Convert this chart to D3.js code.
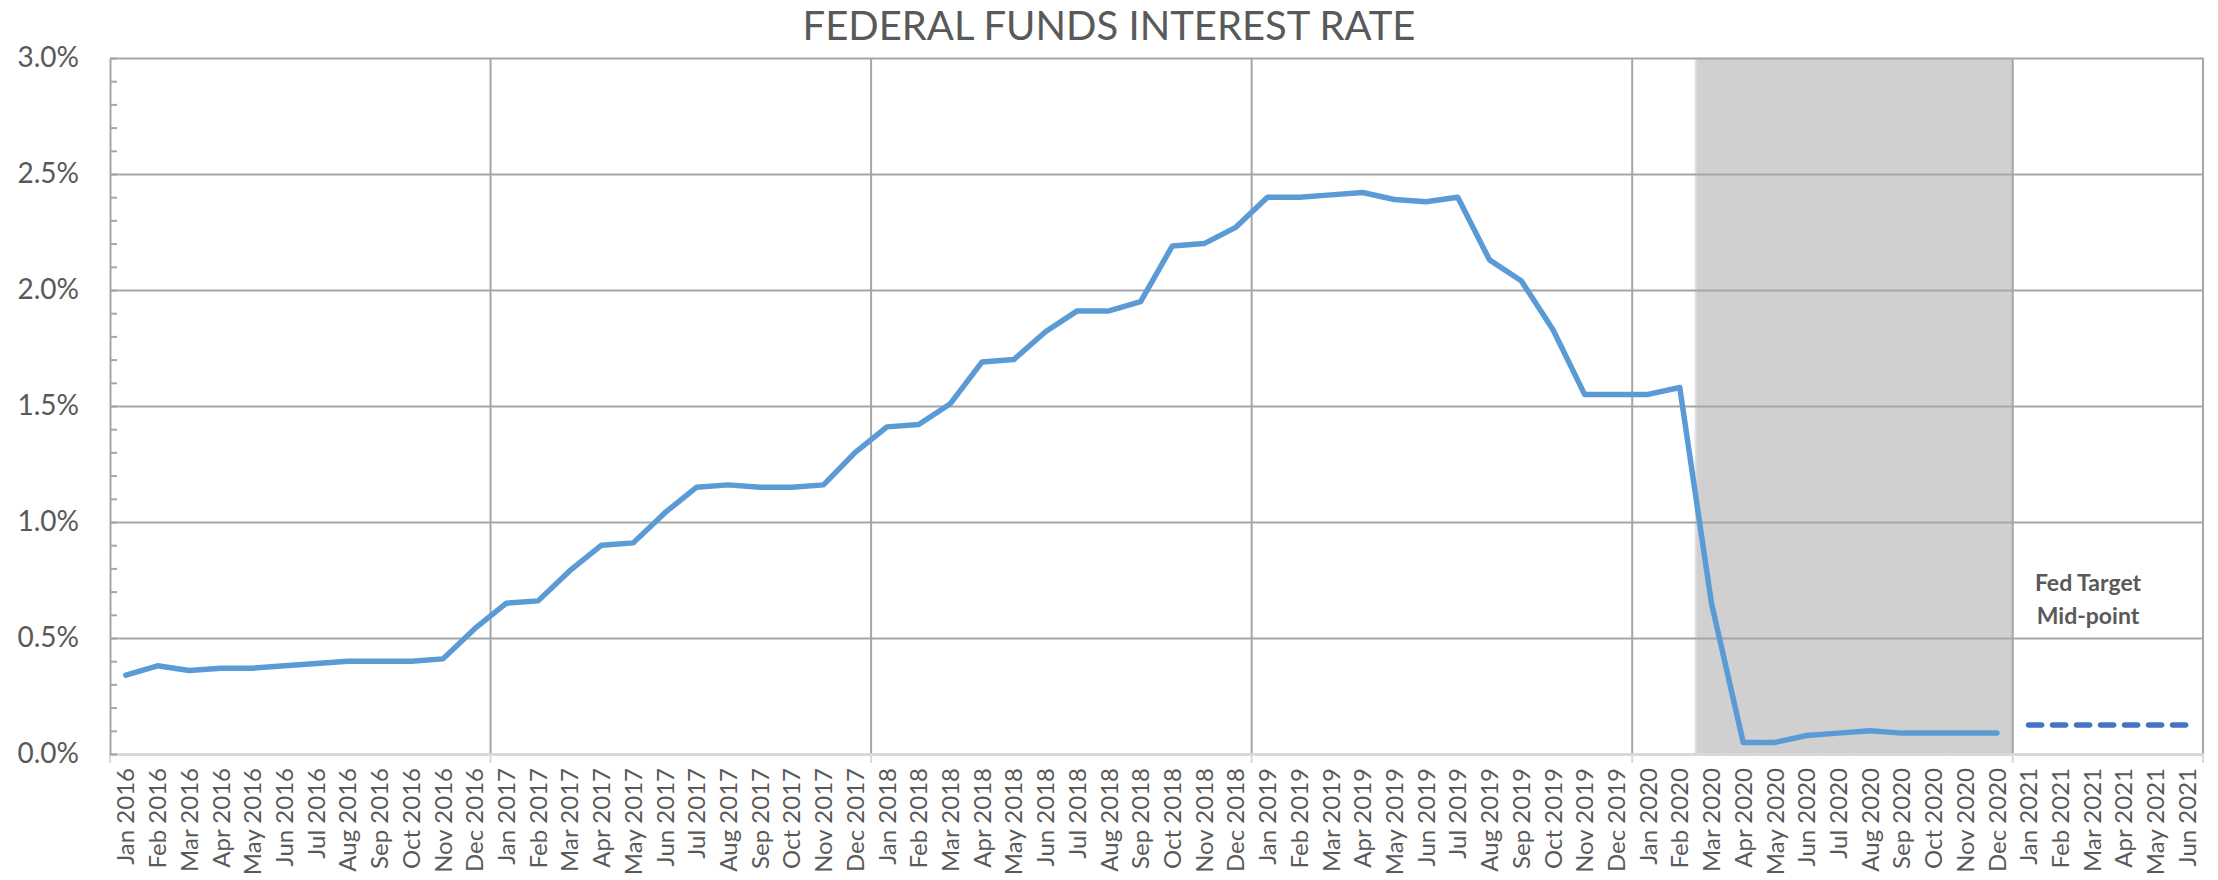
<!DOCTYPE html>
<html>
<head>
<meta charset="utf-8">
<script src="https://cdn.jsdelivr.net/npm/d3@7"></script>
<style>
body{margin:0;background:#fff;}
svg{display:block;font-family:Lato,"Open Sans",sans-serif;}
</style>
</head>
<body>
<div id="chart"></div>
<script>
// categories (monthly)
var months=[
 'Jan 2016','Feb 2016','Mar 2016','Apr 2016','May 2016','Jun 2016','Jul 2016','Aug 2016','Sep 2016','Oct 2016','Nov 2016','Dec 2016',
 'Jan 2017','Feb 2017','Mar 2017','Apr 2017','May 2017','Jun 2017','Jul 2017','Aug 2017','Sep 2017','Oct 2017','Nov 2017','Dec 2017',
 'Jan 2018','Feb 2018','Mar 2018','Apr 2018','May 2018','Jun 2018','Jul 2018','Aug 2018','Sep 2018','Oct 2018','Nov 2018','Dec 2018',
 'Jan 2019','Feb 2019','Mar 2019','Apr 2019','May 2019','Jun 2019','Jul 2019','Aug 2019','Sep 2019','Oct 2019','Nov 2019','Dec 2019',
 'Jan 2020','Feb 2020','Mar 2020','Apr 2020','May 2020','Jun 2020','Jul 2020','Aug 2020','Sep 2020','Oct 2020','Nov 2020','Dec 2020',
 'Jan 2021','Feb 2021','Mar 2021','Apr 2021','May 2021','Jun 2021'
];

// effective fed funds rate, % (Jan 2016 - Dec 2020)
var fedFunds=[
 0.34,0.38,0.36,0.37,0.37,0.38,0.39,0.40,0.40,0.40,0.41,0.54,
 0.65,0.66,0.79,0.90,0.91,1.04,1.15,1.16,1.15,1.15,1.16,1.30,
 1.41,1.42,1.51,1.69,1.70,1.82,1.91,1.91,1.95,2.19,2.20,2.27,
 2.40,2.40,2.41,2.42,2.39,2.38,2.40,2.13,2.04,1.83,1.55,1.55,
 1.55,1.58,0.65,0.05,0.05,0.08,0.09,0.10,0.09,0.09,0.09,0.09
];

// fed target mid-point (Jan 2021 - Jun 2021)
var targetMonths=['Jan 2021','Feb 2021','Mar 2021','Apr 2021','May 2021','Jun 2021'];
var fedTarget=[0.125,0.125,0.125,0.125,0.125,0.125];

// shaded period
var shadeMonths=['Mar 2020','Apr 2020','May 2020','Jun 2020','Jul 2020','Aug 2020','Sep 2020','Oct 2020','Nov 2020','Dec 2020'];
var shadeValue=3.0;

var yTicks=[0,0.5,1.0,1.5,2.0,2.5,3.0];
var yMinor=d3.range(0,31).map(function(i){return i/10;});
var yearStarts=['Jan 2017','Jan 2018','Jan 2019','Jan 2020','Jan 2021'];

var W=2218,H=880;
var L=110,R=2203,T=58,B=754;

var svg=d3.select('#chart').append('svg').attr('width',W).attr('height',H);

var x=d3.scaleBand().domain(months).range([L,R]).padding(0);
var y=d3.scaleLinear().domain([0,3.0]).range([B,T]);

// title
svg.append('text').attr('x',W/2).attr('y',40).attr('text-anchor','middle')
 .style('font-size','40px').style('fill','#595959').text('FEDERAL FUNDS INTEREST RATE');

// shaded band
svg.append('g').selectAll('rect').data(shadeMonths).enter().append('rect')
 .attr('x',function(d){return x(d);})
 .attr('width',x.bandwidth()+0.5)
 .attr('y',y(shadeValue))
 .attr('height',function(){return y(0)-y(shadeValue);})
 .style('fill','#d0d0d0');
svg.append('line').attr('x1',x(shadeMonths[0])).attr('x2',x(shadeMonths[0]))
 .attr('y1',y(shadeValue)).attr('y2',y(0)).style('stroke','#e2e2e2').style('stroke-width',2);

// horizontal gridlines
svg.append('g').attr('transform','translate('+L+',0)')
 .call(d3.axisLeft(y).tickValues(yTicks).tickSize(-(R-L)).tickFormat(''))
 .call(function(g){
   g.select('.domain').remove();
   g.selectAll('line').style('stroke','#a6a6a6').style('stroke-width',2);
 });

// vertical gridlines (year boundaries) + right border
var vx=yearStarts.map(function(m){return x(m);}).concat([R]);
svg.append('g').selectAll('line').data(vx).enter().append('line')
 .attr('x1',function(d){return d;}).attr('x2',function(d){return d;})
 .attr('y1',T).attr('y2',B)
 .style('stroke','#a6a6a6').style('stroke-width',2);

// x axis
var xAxis=svg.append('g').attr('transform','translate(0,'+B+')')
 .call(d3.axisBottom(x).tickSize(0).tickPadding(0));
xAxis.select('.domain').style('stroke','#d9d9d9').style('stroke-width',3);
xAxis.selectAll('text')
 .attr('transform','rotate(-90)')
 .attr('x',-14).attr('y',0).attr('dy','0.36em')
 .attr('text-anchor','end')
 .style('font-size','24px').style('fill','#595959').style('font-family','Lato,"Open Sans",sans-serif');

// x major ticks below axis
svg.append('g').selectAll('line').data([L].concat(vx)).enter().append('line')
 .attr('x1',function(d){return d;}).attr('x2',function(d){return d;})
 .attr('y1',B).attr('y2',B+9)
 .style('stroke','#d9d9d9').style('stroke-width',2);

// y axis
var yAxis=svg.append('g').attr('transform','translate('+L+',0)')
 .call(d3.axisLeft(y).tickValues(yTicks).tickSize(0).tickPadding(31)
   .tickFormat(function(d){return d.toFixed(1)+'%';}));
yAxis.select('.domain').style('stroke','#a6a6a6').style('stroke-width',2);
yAxis.selectAll('text').style('font-size','28px').style('fill','#595959')
 .style('font-family','Lato,"Open Sans",sans-serif');

// y minor ticks (inside)
svg.append('g').attr('transform','translate('+L+',0)')
 .call(d3.axisRight(y).tickValues(yMinor).tickSize(7).tickFormat(''))
 .call(function(g){
   g.select('.domain').remove();
   g.selectAll('line').style('stroke','#a6a6a6').style('stroke-width',2);
 });

// fed funds line
var line=d3.line()
 .x(function(d,i){return x(months[i])+x.bandwidth()/2;})
 .y(function(d){return y(d);});
svg.append('path').datum(fedFunds).attr('d',line)
 .style('fill','none').style('stroke','#5b9bd5').style('stroke-width',5.5)
 .style('stroke-linejoin','round').style('stroke-linecap','round');

// target dashed line
var tline=d3.line()
 .x(function(d,i){return x(targetMonths[i])+x.bandwidth()/2;})
 .y(function(d){return y(d);});
svg.append('path').datum(fedTarget).attr('d',tline)
 .style('fill','none').style('stroke','#4472c4').style('stroke-width',5.5)
 .style('stroke-dasharray','13,11').style('stroke-linecap','round');

// annotation
var ann=svg.append('text').attr('text-anchor','middle')
 .style('font-size','23px').style('font-weight','bold').style('fill','#595959');
ann.append('tspan').attr('x',2088).attr('y',591).text('Fed Target');
ann.append('tspan').attr('x',2088).attr('y',624).text('Mid-point');
</script>
</body>
</html>
